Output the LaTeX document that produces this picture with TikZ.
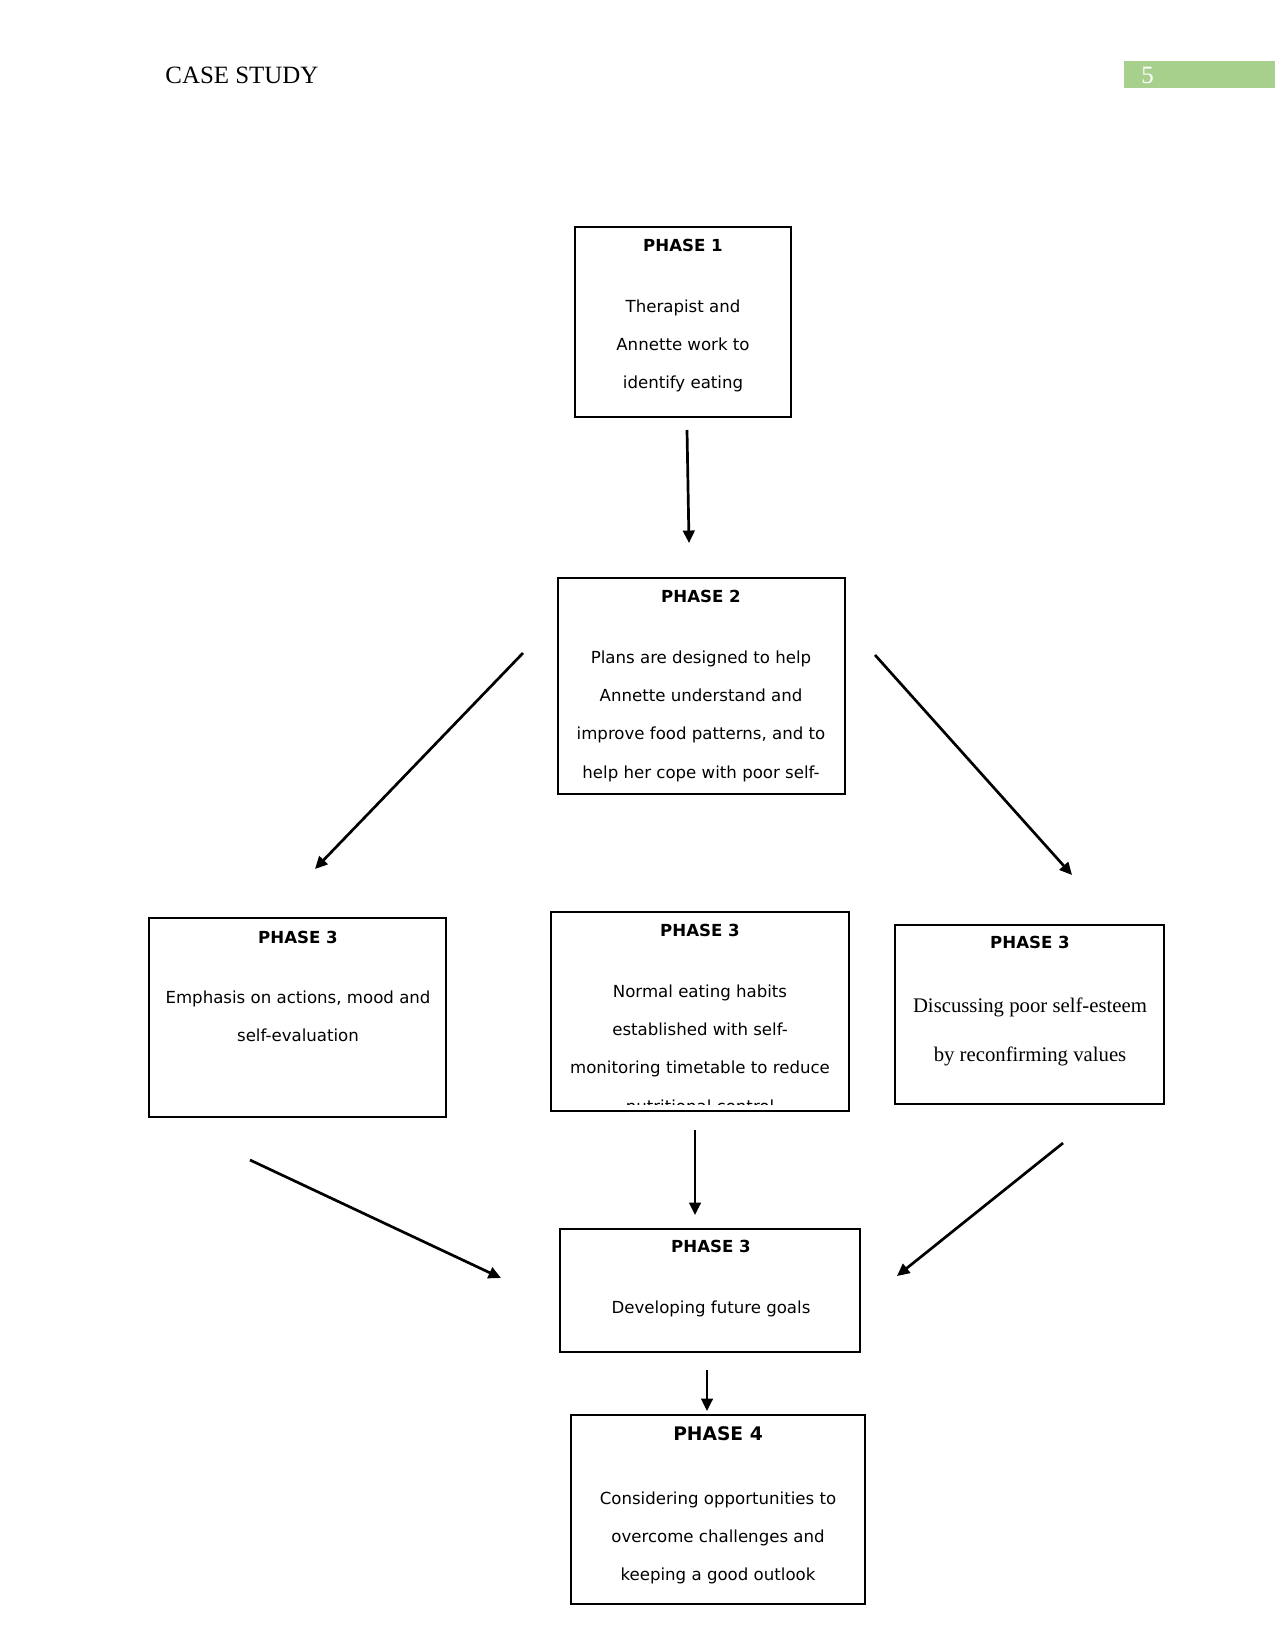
\documentclass[tikz,border=0pt]{standalone}
\usepackage{fontspec}
\setmainfont{DejaVu Sans}
\newfontfamily\hdrfont{Liberation Serif}
\usetikzlibrary{arrows.meta,fit}
\definecolor{pagegreen}{RGB}{168,208,141}

\tikzset{
  phasebox/.style={draw, rectangle, line width=0.55pt, inner sep=0pt},
  phasehead/.style={anchor=base, inner sep=0pt, font=\bfseries\fontsize{8}{10}\selectfont},
  phasebody/.style={anchor=north, inner sep=0pt, align=center, font=\fontsize{8}{18.5}\selectfont},
  flow/.style={->, line width=1.3pt},
}

\begin{document}
\begin{tikzpicture}[x=0.4818pt,y=-0.4818pt,>={Triangle[length=6pt,width=5.6pt]}]
\useasboundingbox (0,0) rectangle (1275,1651);

% running head
\node[anchor=base west, inner sep=0pt, font=\hdrfont\fontsize{12}{14}\selectfont] (head) at (165,84) {CASE STUDY};
\fill[pagegreen] (1124,61) rectangle (1275,88);
\node[anchor=base west, inner sep=0pt, text=white, font=\hdrfont\fontsize{12}{14}\selectfont] (pageno) at (1141,84) {5};

% phase 1
\node[phasebox, fit={(575,227) (791,417)}] (p1) {};
\node[phasehead] (p1h) at (683,251.5) {PHASE 1};
\node[phasebody] (p1b) at (683,299) {Therapist and\\Annette work to\\identify eating};

% phase 2
\node[phasebox, fit={(558,578) (845,794)}] (p2) {};
\node[phasehead] (p2h) at (701,602.5) {PHASE 2};
\node[phasebody] (p2b) at (701,650) {Plans are designed to help\\Annette understand and\\improve food patterns, and to\\help her cope with poor self-};

% phase 3, three boxes
\node[phasebox, fit={(149,918) (446,1117)}] (p3l) {};
\node[phasehead] (p3lh) at (298,943.5) {PHASE 3};
\node[phasebody] (p3lb) at (298,990) {Emphasis on actions, mood and\\self-evaluation};

\node[phasebox, fit={(551,912) (849,1111)}] (p3m) {};
\node[phasehead] (p3mh) at (700,936.5) {PHASE 3};
\begin{scope}
  \clip (551,912) rectangle (849,1104.5);
  \node[phasebody] (p3mb) at (700,984) {Normal eating habits\\established with self-\\monitoring timetable to reduce\\nutritional control};
\end{scope}

\node[phasebox, fit={(895,925) (1164,1104)}] (p3r) {};
\node[phasehead] (p3rh) at (1030,948.5) {PHASE 3};
\node[phasebody, font=\hdrfont\fontsize{10}{24}\selectfont] (p3rb) at (1030,997) {Discussing poor self-esteem\\by reconfirming values};

% phase 3, goals
\node[phasebox, fit={(560,1229) (860,1352)}] (p3g) {};
\node[phasehead] (p3gh) at (711,1252.5) {PHASE 3};
\node[phasebody] (p3gb) at (711,1300) {Developing future goals};

% phase 4
\node[phasebox, fit={(571,1415) (865,1604)}] (p4) {};
\node[phasehead, font=\bfseries\fontsize{9}{11}\selectfont] (p4h) at (718,1440.5) {PHASE 4};
\node[phasebody] (p4b) at (718,1491) {Considering opportunities to\\overcome challenges and\\keeping a good outlook};

% arrow ends
\coordinate (p1out) at (687,430);
\coordinate (p2in) at (689,543);
\coordinate (p2outl) at (523,653);
\coordinate (p3lin) at (315,869);
\coordinate (p2outr) at (875,655);
\coordinate (p3rin) at (1072,875);
\coordinate (p3lout) at (250,1160);
\coordinate (p3ginl) at (501,1278);
\coordinate (p3mout) at (695,1130);
\coordinate (p3ginm) at (695,1215);
\coordinate (p3rout) at (1063,1143);
\coordinate (p3ginr) at (897,1276);
\coordinate (p3gout) at (707,1370);
\coordinate (p4in) at (707,1411);

\draw[flow] (p1out) -- (p2in);
\draw[flow] (p2outl) -- (p3lin);
\draw[flow] (p2outr) -- (p3rin);
\draw[flow] (p3lout) -- (p3ginl);
\draw[flow] (p3mout) -- (p3ginm);
\draw[flow] (p3rout) -- (p3ginr);
\draw[flow] (p3gout) -- (p4in);
\end{tikzpicture}
\end{document}
